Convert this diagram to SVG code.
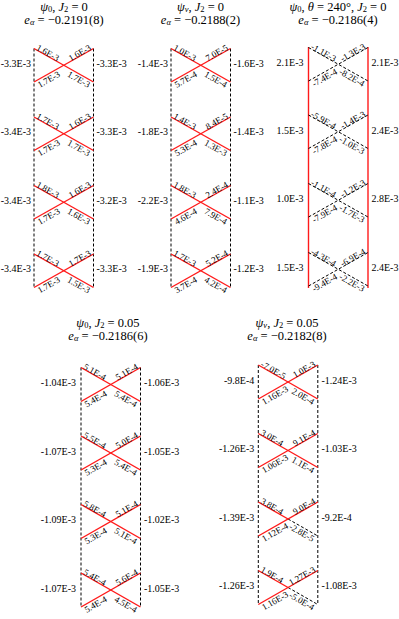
<svg xmlns="http://www.w3.org/2000/svg" width="399" height="619" viewBox="0 0 399 619">
<style>
text{font-family:"Liberation Serif","Times New Roman",serif;fill:#000}
.t{font-size:12.5px}
.i{font-style:italic}
.s{font-size:8.5px}
.side{font-size:10px}
.l{font-size:9px}
.e{text-anchor:end}
.r{stroke:#ff1a1a;stroke-width:1.4;fill:none}
.d{stroke:#000;stroke-width:1;stroke-dasharray:3 2;fill:none}
</style>
<rect width="399" height="619" fill="#fff"/>

<!-- Panel 1: psi0, J2=0 -->
<g id="panel1">
<text class="t" x="64" y="10.5" text-anchor="middle"><tspan class="i">ψ</tspan><tspan class="s" dy="1.5">0</tspan><tspan dy="-1.5">, </tspan><tspan class="i">J</tspan><tspan class="s" dy="1.5">2</tspan><tspan dy="-1.5"> = 0</tspan></text>
<text class="t" x="64" y="23.5" text-anchor="middle"><tspan class="i">e</tspan><tspan class="s i" dy="1.5">α</tspan><tspan dy="-1.5"> = −0.2191(8)</tspan></text>
<g id="p1-connectors">
<line class="d" x1="34" y1="48.5" x2="34" y2="288"/>
<line class="d" x1="93.5" y1="48.5" x2="93.5" y2="288"/>
</g>
<g id="p1-r1" transform="translate(34,48.5)">
<line class="r" x1="0" y1="0" x2="59.5" y2="33.5"/><line class="r" x1="0" y1="33.5" x2="59.5" y2="0"/>
<text class="l" transform="rotate(29.4)" x="2" y="0">1.6E-3</text>
<text class="l e" transform="translate(59.5,0) rotate(-29.4)" x="-2" y="0">1.6E-3</text>
<text class="l" transform="translate(0,33.5) rotate(-29.4)" x="2" y="8">1.7E-3</text>
<text class="l e" transform="translate(59.5,33.5) rotate(29.4)" x="-2" y="8">1.7E-3</text>
</g>
<g id="p1-r2" transform="translate(34,117)">
<line class="r" x1="0" y1="0" x2="59.5" y2="33.5"/><line class="r" x1="0" y1="33.5" x2="59.5" y2="0"/>
<text class="l" transform="rotate(29.4)" x="2" y="0">1.7E-3</text>
<text class="l e" transform="translate(59.5,0) rotate(-29.4)" x="-2" y="0">1.6E-3</text>
<text class="l" transform="translate(0,33.5) rotate(-29.4)" x="2" y="8">1.7E-3</text>
<text class="l e" transform="translate(59.5,33.5) rotate(29.4)" x="-2" y="8">1.7E-3</text>
</g>
<g id="p1-r3" transform="translate(34,185.5)">
<line class="r" x1="0" y1="0" x2="59.5" y2="33.5"/><line class="r" x1="0" y1="33.5" x2="59.5" y2="0"/>
<text class="l" transform="rotate(29.4)" x="2" y="0">1.8E-3</text>
<text class="l e" transform="translate(59.5,0) rotate(-29.4)" x="-2" y="0">1.6E-3</text>
<text class="l" transform="translate(0,33.5) rotate(-29.4)" x="2" y="8">1.7E-3</text>
<text class="l e" transform="translate(59.5,33.5) rotate(29.4)" x="-2" y="8">1.6E-3</text>
</g>
<g id="p1-r4" transform="translate(34,254)">
<line class="r" x1="0" y1="0" x2="59.5" y2="33.5"/><line class="r" x1="0" y1="33.5" x2="59.5" y2="0"/>
<text class="l" transform="rotate(29.4)" x="2" y="0">1.7E-3</text>
<text class="l e" transform="translate(59.5,0) rotate(-29.4)" x="-2" y="0">1.7E-3</text>
<text class="l" transform="translate(0,33.5) rotate(-29.4)" x="2" y="8">1.7E-3</text>
<text class="l e" transform="translate(59.5,33.5) rotate(29.4)" x="-2" y="8">1.5E-3</text>
</g>
<g id="p1-side">
<text class="side e" x="31" y="66.5">-3.3E-3</text><text class="side" x="96.5" y="66.5">-3.3E-3</text>
<text class="side e" x="31" y="135">-3.4E-3</text><text class="side" x="96.5" y="135">-3.3E-3</text>
<text class="side e" x="31" y="203.5">-3.4E-3</text><text class="side" x="96.5" y="203.5">-3.2E-3</text>
<text class="side e" x="31" y="272">-3.4E-3</text><text class="side" x="96.5" y="272">-3.3E-3</text>
</g>
</g>

<!-- Panel 2: psi_v, J2=0 -->
<g id="panel2">
<text class="t" x="200.5" y="10.5" text-anchor="middle"><tspan class="i">ψ</tspan><tspan class="s i" dy="1.5">v</tspan><tspan dy="-1.5">, </tspan><tspan class="i">J</tspan><tspan class="s" dy="1.5">2</tspan><tspan dy="-1.5"> = 0</tspan></text>
<text class="t" x="200.5" y="23.5" text-anchor="middle"><tspan class="i">e</tspan><tspan class="s i" dy="1.5">α</tspan><tspan dy="-1.5"> = −0.2188(2)</tspan></text>
<g id="p2-connectors">
<line class="d" x1="171" y1="48.5" x2="171" y2="288"/>
<line class="d" x1="230.5" y1="48.5" x2="230.5" y2="288"/>
</g>
<g id="p2-r1" transform="translate(171,48.5)">
<line class="r" x1="0" y1="0" x2="59.5" y2="33.5"/><line class="r" x1="0" y1="33.5" x2="59.5" y2="0"/>
<text class="l" transform="rotate(29.4)" x="2" y="0">1.0E-3</text>
<text class="l e" transform="translate(59.5,0) rotate(-29.4)" x="-2" y="0">7.0E-5</text>
<text class="l" transform="translate(0,33.5) rotate(-29.4)" x="2" y="8">5.7E-4</text>
<text class="l e" transform="translate(59.5,33.5) rotate(29.4)" x="-2" y="8">1.5E-4</text>
</g>
<g id="p2-r2" transform="translate(171,117)">
<line class="r" x1="0" y1="0" x2="59.5" y2="33.5"/><line class="r" x1="0" y1="33.5" x2="59.5" y2="0"/>
<text class="l" transform="rotate(29.4)" x="2" y="0">1.4E-3</text>
<text class="l e" transform="translate(59.5,0) rotate(-29.4)" x="-2" y="0">8.4E-5</text>
<text class="l" transform="translate(0,33.5) rotate(-29.4)" x="2" y="8">5.3E-4</text>
<text class="l e" transform="translate(59.5,33.5) rotate(29.4)" x="-2" y="8">1.3E-3</text>
</g>
<g id="p2-r3" transform="translate(171,185.5)">
<line class="r" x1="0" y1="0" x2="59.5" y2="33.5"/><line class="r" x1="0" y1="33.5" x2="59.5" y2="0"/>
<text class="l" transform="rotate(29.4)" x="2" y="0">1.8E-3</text>
<text class="l e" transform="translate(59.5,0) rotate(-29.4)" x="-2" y="0">2.4E-4</text>
<text class="l" transform="translate(0,33.5) rotate(-29.4)" x="2" y="8">4.6E-4</text>
<text class="l e" transform="translate(59.5,33.5) rotate(29.4)" x="-2" y="8">7.9E-4</text>
</g>
<g id="p2-r4" transform="translate(171,254)">
<line class="r" x1="0" y1="0" x2="59.5" y2="33.5"/><line class="r" x1="0" y1="33.5" x2="59.5" y2="0"/>
<text class="l" transform="rotate(29.4)" x="2" y="0">1.7E-3</text>
<text class="l e" transform="translate(59.5,0) rotate(-29.4)" x="-2" y="0">5.2E-4</text>
<text class="l" transform="translate(0,33.5) rotate(-29.4)" x="2" y="8">3.7E-4</text>
<text class="l e" transform="translate(59.5,33.5) rotate(29.4)" x="-2" y="8">4.2E-4</text>
</g>
<g id="p2-side">
<text class="side e" x="168" y="66.5">-1.4E-3</text><text class="side" x="233.5" y="66.5">-1.6E-3</text>
<text class="side e" x="168" y="135">-1.8E-3</text><text class="side" x="233.5" y="135">-1.4E-3</text>
<text class="side e" x="168" y="203.5">-2.2E-3</text><text class="side" x="233.5" y="203.5">-1.1E-3</text>
<text class="side e" x="168" y="272">-1.9E-3</text><text class="side" x="233.5" y="272">-1.2E-3</text>
</g>
</g>

<!-- Panel 3: psi0, theta=240 -->
<g id="panel3">
<text class="t" x="338" y="10.5" text-anchor="middle"><tspan class="i">ψ</tspan><tspan class="s" dy="1.5">0</tspan><tspan dy="-1.5">, </tspan><tspan class="i">θ</tspan><tspan> = 240°, </tspan><tspan class="i">J</tspan><tspan class="s" dy="1.5">2</tspan><tspan dy="-1.5"> = 0</tspan></text>
<text class="t" x="338" y="23.5" text-anchor="middle"><tspan class="i">e</tspan><tspan class="s i" dy="1.5">α</tspan><tspan dy="-1.5"> = −0.2186(4)</tspan></text>
<g id="p3-connectors">
<line class="r" x1="308.5" y1="47" x2="308.5" y2="288" stroke-width="1.6"/>
<line class="r" x1="368" y1="47" x2="368" y2="288" stroke-width="1.6"/>
</g>
<g id="p3-r1" transform="translate(308.5,47.5)">
<line class="d" x1="0" y1="0" x2="59.5" y2="33.5"/><line class="d" x1="0" y1="33.5" x2="59.5" y2="0"/>
<text class="l" transform="rotate(29.4)" x="2" y="0">-1.1E-3</text>
<text class="l e" transform="translate(59.5,0) rotate(-29.4)" x="-2" y="0">-1.3E-3</text>
<text class="l" transform="translate(0,33.5) rotate(-29.4)" x="2" y="8">-7.4E-4</text>
<text class="l e" transform="translate(59.5,33.5) rotate(29.4)" x="-2" y="8">-8.2E-4</text>
</g>
<g id="p3-r2" transform="translate(308.5,115)">
<line class="d" x1="0" y1="0" x2="59.5" y2="33.5"/><line class="d" x1="0" y1="33.5" x2="59.5" y2="0"/>
<text class="l" transform="rotate(29.4)" x="2" y="0">-5.9E-4</text>
<text class="l e" transform="translate(59.5,0) rotate(-29.4)" x="-2" y="0">-1.4E-3</text>
<text class="l" transform="translate(0,33.5) rotate(-29.4)" x="2" y="8">-7.8E-4</text>
<text class="l e" transform="translate(59.5,33.5) rotate(29.4)" x="-2" y="8">-1.0E-3</text>
</g>
<g id="p3-r3" transform="translate(308.5,183.5)">
<line class="d" x1="0" y1="0" x2="59.5" y2="33.5"/><line class="d" x1="0" y1="33.5" x2="59.5" y2="0"/>
<text class="l" transform="rotate(29.4)" x="2" y="0">-1.1E-4</text>
<text class="l e" transform="translate(59.5,0) rotate(-29.4)" x="-2" y="0">-1.2E-3</text>
<text class="l" transform="translate(0,33.5) rotate(-29.4)" x="2" y="8">-7.9E-4</text>
<text class="l e" transform="translate(59.5,33.5) rotate(29.4)" x="-2" y="8">-1.7E-3</text>
</g>
<g id="p3-r4" transform="translate(308.5,252.5)">
<line class="d" x1="0" y1="0" x2="59.5" y2="33.5"/><line class="d" x1="0" y1="33.5" x2="59.5" y2="0"/>
<text class="l" transform="rotate(29.4)" x="2" y="0">-4.3E-4</text>
<text class="l e" transform="translate(59.5,0) rotate(-29.4)" x="-2" y="0">-6.9E-4</text>
<text class="l" transform="translate(0,33.5) rotate(-29.4)" x="2" y="8">-9.4E-4</text>
<text class="l e" transform="translate(59.5,33.5) rotate(29.4)" x="-2" y="8">-2.2E-3</text>
</g>
<g id="p3-side">
<text class="side e" x="303.5" y="65.5">2.1E-3</text><text class="side" x="371.5" y="65.5">2.1E-3</text>
<text class="side e" x="303.5" y="133.5">1.5E-3</text><text class="side" x="371.5" y="133.5">2.4E-3</text>
<text class="side e" x="303.5" y="202">1.0E-3</text><text class="side" x="371.5" y="202">2.8E-3</text>
<text class="side e" x="303.5" y="271">1.5E-3</text><text class="side" x="371.5" y="271">2.4E-3</text>
</g>
</g>

<!-- Panel 4: psi0, J2=0.05 -->
<g id="panel4">
<text class="t" x="108" y="326.5" text-anchor="middle"><tspan class="i">ψ</tspan><tspan class="s" dy="1.5">0</tspan><tspan dy="-1.5">, </tspan><tspan class="i">J</tspan><tspan class="s" dy="1.5">2</tspan><tspan dy="-1.5"> = 0.05</tspan></text>
<text class="t" x="108" y="339.5" text-anchor="middle"><tspan class="i">e</tspan><tspan class="s i" dy="1.5">α</tspan><tspan dy="-1.5"> = −0.2186(6)</tspan></text>
<g id="p4-connectors">
<line class="d" x1="81" y1="367.5" x2="81" y2="607"/>
<line class="d" x1="140.5" y1="367.5" x2="140.5" y2="607"/>
</g>
<g id="p4-r1" transform="translate(81,367.5)">
<line class="r" x1="0" y1="0" x2="59.5" y2="34"/><line class="r" x1="0" y1="34" x2="59.5" y2="0"/>
<text class="l" transform="rotate(29.7)" x="2" y="0">5.1E-4</text>
<text class="l e" transform="translate(59.5,0) rotate(-29.7)" x="-2" y="0">5.1E-4</text>
<text class="l" transform="translate(0,34) rotate(-29.7)" x="2" y="8">5.4E-4</text>
<text class="l e" transform="translate(59.5,34) rotate(29.7)" x="-2" y="8">5.4E-4</text>
</g>
<g id="p4-r2" transform="translate(81,436)">
<line class="r" x1="0" y1="0" x2="59.5" y2="34"/><line class="r" x1="0" y1="34" x2="59.5" y2="0"/>
<text class="l" transform="rotate(29.7)" x="2" y="0">5.5E-4</text>
<text class="l e" transform="translate(59.5,0) rotate(-29.7)" x="-2" y="0">5.0E-4</text>
<text class="l" transform="translate(0,34) rotate(-29.7)" x="2" y="8">5.3E-4</text>
<text class="l e" transform="translate(59.5,34) rotate(29.7)" x="-2" y="8">5.4E-4</text>
</g>
<g id="p4-r3" transform="translate(81,504.5)">
<line class="r" x1="0" y1="0" x2="59.5" y2="34"/><line class="r" x1="0" y1="34" x2="59.5" y2="0"/>
<text class="l" transform="rotate(29.7)" x="2" y="0">5.8E-4</text>
<text class="l e" transform="translate(59.5,0) rotate(-29.7)" x="-2" y="0">5.1E-4</text>
<text class="l" transform="translate(0,34) rotate(-29.7)" x="2" y="8">5.3E-4</text>
<text class="l e" transform="translate(59.5,34) rotate(29.7)" x="-2" y="8">5.1E-4</text>
</g>
<g id="p4-r4" transform="translate(81,573)">
<line class="r" x1="0" y1="0" x2="59.5" y2="34"/><line class="r" x1="0" y1="34" x2="59.5" y2="0"/>
<text class="l" transform="rotate(29.7)" x="2" y="0">5.4E-4</text>
<text class="l e" transform="translate(59.5,0) rotate(-29.7)" x="-2" y="0">5.6E-4</text>
<text class="l" transform="translate(0,34) rotate(-29.7)" x="2" y="8">5.4E-4</text>
<text class="l e" transform="translate(59.5,34) rotate(29.7)" x="-2" y="8">4.5E-4</text>
</g>
<g id="p4-side">
<text class="side e" x="76" y="386">-1.04E-3</text><text class="side" x="144" y="386">-1.06E-3</text>
<text class="side e" x="76" y="454.5">-1.07E-3</text><text class="side" x="144" y="454.5">-1.05E-3</text>
<text class="side e" x="76" y="523">-1.09E-3</text><text class="side" x="144" y="523">-1.02E-3</text>
<text class="side e" x="76" y="591.5">-1.07E-3</text><text class="side" x="144" y="591.5">-1.05E-3</text>
</g>
</g>

<!-- Panel 5: psi_v, J2=0.05 -->
<g id="panel5">
<text class="t" x="287" y="326.5" text-anchor="middle"><tspan class="i">ψ</tspan><tspan class="s i" dy="1.5">v</tspan><tspan dy="-1.5">, </tspan><tspan class="i">J</tspan><tspan class="s" dy="1.5">2</tspan><tspan dy="-1.5"> = 0.05</tspan></text>
<text class="t" x="287" y="339.5" text-anchor="middle"><tspan class="i">e</tspan><tspan class="s i" dy="1.5">α</tspan><tspan dy="-1.5"> = −0.2182(8)</tspan></text>
<g id="p5-connectors">
<line class="d" x1="258.3" y1="365" x2="258.3" y2="604.5"/>
<line class="d" x1="317.8" y1="365" x2="317.8" y2="604.5"/>
</g>
<g id="p5-r1" transform="translate(258.3,365)">
<line class="r" x1="0" y1="0" x2="59.5" y2="34"/><line class="r" x1="0" y1="34" x2="59.5" y2="0"/>
<text class="l" transform="rotate(29.7)" x="2" y="0">-7.0E-5</text>
<text class="l e" transform="translate(59.5,0) rotate(-29.7)" x="-2" y="0">1.0E-3</text>
<text class="l" transform="translate(0,34) rotate(-29.7)" x="2" y="8">1.16E-3</text>
<text class="l e" transform="translate(59.5,34) rotate(29.7)" x="-2" y="8">2.0E-4</text>
</g>
<g id="p5-r2" transform="translate(258.3,433.5)">
<line class="r" x1="0" y1="0" x2="59.5" y2="34"/><line class="r" x1="0" y1="34" x2="59.5" y2="0"/>
<text class="l" transform="rotate(29.7)" x="2" y="0">3.0E-4</text>
<text class="l e" transform="translate(59.5,0) rotate(-29.7)" x="-2" y="0">9.1E-4</text>
<text class="l" transform="translate(0,34) rotate(-29.7)" x="2" y="8">1.06E-3</text>
<text class="l e" transform="translate(59.5,34) rotate(29.7)" x="-2" y="8">1.1E-4</text>
</g>
<g id="p5-r3" transform="translate(258.3,502)">
<line class="r" x1="0" y1="0" x2="29.75" y2="17"/><line class="d" x1="29.75" y1="17" x2="59.5" y2="34"/><line class="r" x1="0" y1="34" x2="59.5" y2="0"/>
<text class="l" transform="rotate(29.7)" x="2" y="0">3.8E-4</text>
<text class="l e" transform="translate(59.5,0) rotate(-29.7)" x="-2" y="0">9.0E-4</text>
<text class="l" transform="translate(0,34) rotate(-29.7)" x="2" y="8">1.12E-4</text>
<text class="l e" transform="translate(59.5,34) rotate(29.7)" x="-2" y="8">-2.8E-5</text>
</g>
<g id="p5-r4" transform="translate(258.3,570.5)">
<line class="r" x1="0" y1="0" x2="29.75" y2="17"/><line class="d" x1="29.75" y1="17" x2="59.5" y2="34"/><line class="r" x1="0" y1="34" x2="59.5" y2="0"/>
<text class="l" transform="rotate(29.7)" x="2" y="0">1.9E-4</text>
<text class="l e" transform="translate(59.5,0) rotate(-29.7)" x="-2" y="0">1.27E-3</text>
<text class="l" transform="translate(0,34) rotate(-29.7)" x="2" y="8">1.16E-3</text>
<text class="l e" transform="translate(59.5,34) rotate(29.7)" x="-2" y="8">-5.0E-4</text>
</g>
<g id="p5-side">
<text class="side e" x="254.3" y="383.5">-9.8E-4</text><text class="side" x="321.5" y="383.5">-1.24E-3</text>
<text class="side e" x="254.3" y="452">-1.26E-3</text><text class="side" x="321.5" y="452">-1.03E-3</text>
<text class="side e" x="254.3" y="520.5">-1.39E-3</text><text class="side" x="321.5" y="520.5">-9.2E-4</text>
<text class="side e" x="254.3" y="589">-1.26E-3</text><text class="side" x="321.5" y="589">-1.08E-3</text>
</g>
</g>
</svg>
